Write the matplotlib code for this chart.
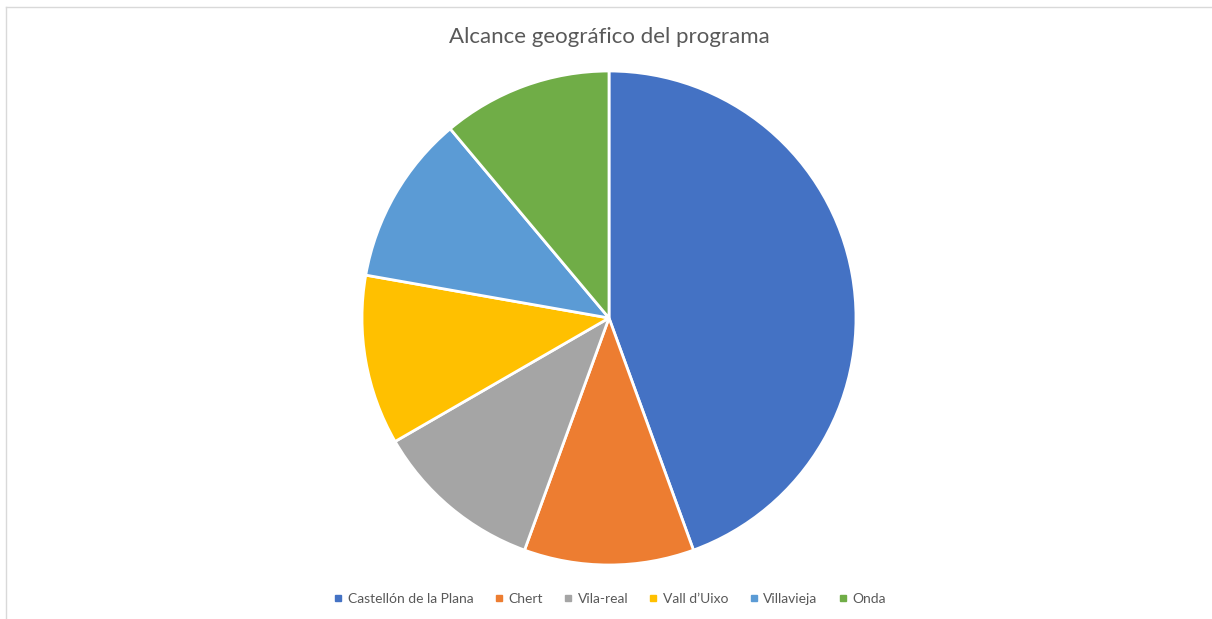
import matplotlib
matplotlib.use("Agg")
import matplotlib.pyplot as plt
from matplotlib.lines import Line2D

TEXT = "#595959"
FONT = "Lato"

labels = ["Castellón de la Plana", "Chert", "Vila-real", "Vall d\u2019Uixo", "Villavieja", "Onda"]
values = [4, 1, 1, 1, 1, 1]
colors = ["#4472C4", "#ED7D31", "#A5A5A5", "#FFC000", "#5B9BD5", "#70AD47"]

W, H = 1212, 619
fig = plt.figure(figsize=(W / 100, H / 100), dpi=100)
fig.patch.set_facecolor("white")

# pie centred at (609, 318) px, radius ~247 px
cx, cy, r = 609, 318, 247
ax = fig.add_axes([(cx - r) / W, (H - cy - r) / H, 2 * r / W, 2 * r / H])
ax.pie(values, colors=colors, startangle=90, counterclock=False,
       wedgeprops=dict(edgecolor="white", linewidth=2))
ax.set_xlim(-1, 1)
ax.set_ylim(-1, 1)
ax.set_aspect("equal")

fig.text(609 / W, 1 - 37 / H, "Alcance geográfico del programa",
         ha="center", va="center", fontsize=16, color=TEXT, family=FONT)

handles = [Line2D([0], [0], marker="s", linestyle="none", markersize=5,
                  markerfacecolor=c, markeredgecolor=c) for c in colors]
fig.legend(handles, labels, loc="center", bbox_to_anchor=(610 / W, 1 - 599 / H),
           ncol=6, frameon=False, handlelength=0.6, handletextpad=0.4,
           columnspacing=1.5, prop={"family": FONT, "size": 10}, labelcolor=TEXT)

# thin chart-area border (top and left edges visible)
fig.add_artist(Line2D([6 / W, 1], [1 - 7 / H, 1 - 7 / H], color="#D9D9D9", linewidth=1))
fig.add_artist(Line2D([6 / W, 6 / W], [0, 1 - 7 / H], color="#D9D9D9", linewidth=1))

fig.savefig("out.png", dpi=100, facecolor="white")
